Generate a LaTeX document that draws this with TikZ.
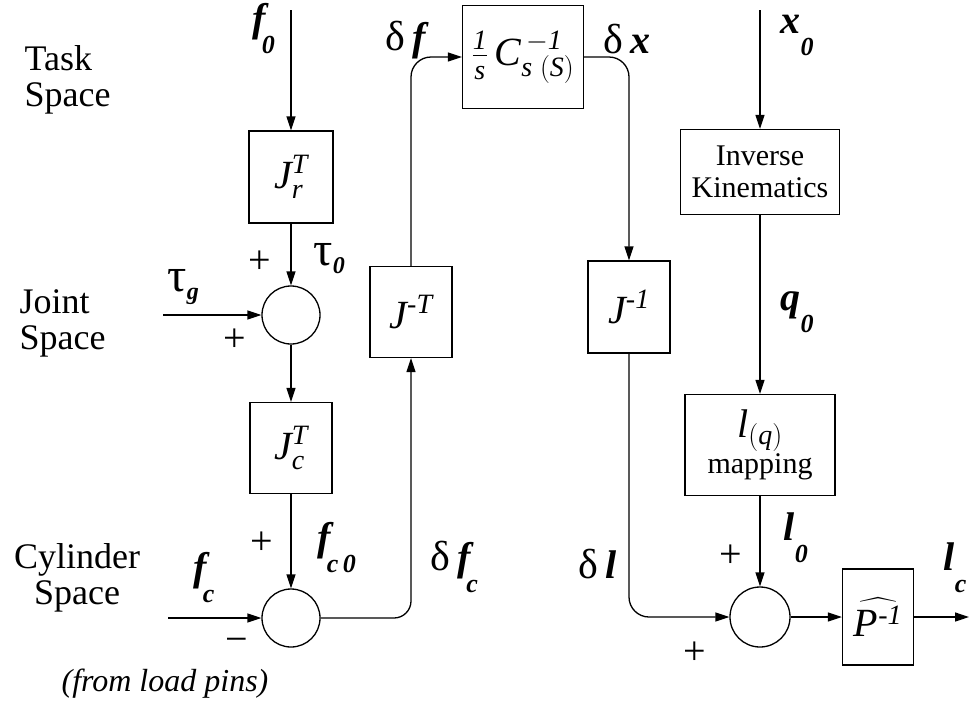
\RequirePackage{fix-cm}
\documentclass[tikz,border=0pt]{standalone}
\usepackage{amsmath}
\usepackage{fontspec}
\setmainfont{Liberation Serif}
\usetikzlibrary{arrows.meta}

% lowered subscript of a signal label
\newcommand{\lsub}[1]{\raisebox{-22pt}{\fontsize{26}{26}\selectfont #1}}
\newcommand{\tsub}[1]{\raisebox{-8pt}{\fontsize{24}{24}\selectfont #1}}
\newcommand{\gtau}{{\fontsize{48}{48}\selectfont\upshape\mdseries τ}}
\newcommand{\gdelta}{{\fontsize{42}{42}\selectfont\upshape\mdseries δ}}

\begin{document}
\begin{tikzpicture}[x=1pt,y=-1pt,line width=1.3pt,
    >={Triangle[length=14pt,width=9pt]},
    font=\fontsize{36}{36}\selectfont,
    blk/.style={draw,inner sep=0pt,font=\fontsize{40}{40}\selectfont},
    sum/.style={draw,circle,minimum size=58pt,inner sep=0pt},
    lbl/.style={font=\fontsize{40}{40}\selectfont\bfseries\itshape,inner sep=0pt,anchor=base west},
    sgn/.style={font=\fontsize{40}{40}\selectfont,inner sep=0pt},
    space/.style={align=left,inner sep=0pt}]
    \useasboundingbox (0,0) rectangle (969,705);

    \node[space,anchor=west] (task) at (24,80) {Task\\Space};
    \node[space,anchor=west] (joint) at (19,323) {Joint\\Space};
    \node[space,align=center] (cyl) at (77,578) {Cylinder\\Space};
    \node[font=\fontsize{32}{32}\selectfont\itshape,inner sep=0pt] (pins) at (165,684) {(from load pins)};

    \node[blk,minimum width=84pt,minimum height=92pt] (jr) at (291,177) {$\mathit{J}_{\mathit{r}}^{\mathit{T}}$};
    \node[sum] (s1) at (291,315) {};
    \node[blk,minimum width=82pt,minimum height=91pt] (jc) at (291,448) {$\mathit{J}_{\mathit{c}}^{\mathit{T}}$};
    \node[sum] (s2) at (291,618) {};
    \node[blk,minimum width=82pt,minimum height=91pt] (jmt) at (411,312) {$\mathit{J}^{\text{\itshape -T}}$};
    \node[blk,minimum width=121pt,minimum height=103pt] (cinv) at (523,57) {$\frac{\mathit{1}}{\mathit{s}}\,\mathit{C}_{\mathit{s}\;\mathit{(S)}}^{\,-\mathit{1}}$};
    \node[blk,minimum width=82pt,minimum height=92pt] (jinv) at (629,307) {$\mathit{J}^{\text{\itshape -1}}$};
    \node[blk,minimum width=159pt,minimum height=85pt,align=center,font=\fontsize{30}{32}\selectfont] (ik) at (760,172) {Inverse\\Kinematics};
    \node[blk,minimum width=150pt,minimum height=101pt,align=center] (lq) at (760,445) {$\mathit{l}_{\mathit{(q)}}$\\[-4pt]{\fontsize{30}{30}\selectfont mapping}};
    \node[sum,minimum size=60pt] (s3) at (760,617) {};
    \node[blk,minimum width=71pt,minimum height=96pt] (ph) at (878,617) {$\widehat{\mathit{P}^{\text{\itshape -1}}}$};

    \coordinate (f0in) at (291,10);
    \coordinate (tgin) at (163,315);
    \coordinate (fcin) at (168,618);
    \coordinate (x0in) at (760,10);
    \coordinate (lcout) at (969,617);

    \draw[->] (f0in) -- (jr);
    \draw[->] (jr) -- (s1);
    \draw[->] (tgin) -- (s1);
    \draw[->] (s1) -- (jc);
    \draw[->] (jc) -- (s2);
    \draw[->] (fcin) -- (s2);
    \draw[->,rounded corners=17pt] (s2) -| (jmt);
    \draw[->,rounded corners=20pt] (jmt) |- (cinv);
    \draw[->,rounded corners=20pt] (cinv) -| (jinv);
    \draw[->,rounded corners=20pt] (jinv) |- (s3);
    \draw[->] (x0in) -- (ik);
    \draw[->] (ik) -- (lq);
    \draw[->] (lq) -- (s3);
    \draw[->] (s3) -- (ph);
    \draw[->] (ph) -- (lcout);

    \node[lbl] (f0) at (252,31) {f\kern-4pt\lsub{0}};
    \node[lbl] (tau0) at (313,265) {\gtau\tsub{0}};
    \node[lbl] (taug) at (167,291) {\gtau\tsub{g}};
    \node[lbl] (fc0) at (317,550) {f\kern-4pt\lsub{c\,0}};
    \node[lbl] (fc) at (193,580) {f\kern-4pt\lsub{c}};
    \node[lbl] (df) at (385,50) {\gdelta\,f};
    \node[lbl] (dx) at (603,53) {\gdelta\,x};
    \node[lbl] (x0) at (780,33) {x\lsub{0}};
    \node[lbl] (q0) at (780,310) {q\lsub{0}};
    \node[lbl] (l0) at (783,540) {l\lsub{0}};
    \node[lbl] (lc) at (943,570) {l\lsub{c}};
    \node[lbl] (dl) at (578,578) {\gdelta\,l};
    \node[lbl] (dfc) at (430,570) {\gdelta\,f\kern-4pt\lsub{c}};

    \node[sgn] (p1) at (260,262) {+};
    \node[sgn] (p2) at (235,340) {+};
    \node[sgn] (p3) at (262,543) {+};
    \node[sgn] (m1) at (237,645) {−};
    \node[sgn] (p4) at (731,556) {+};
    \node[sgn] (p5) at (695,653) {+};
\end{tikzpicture}
\end{document}
